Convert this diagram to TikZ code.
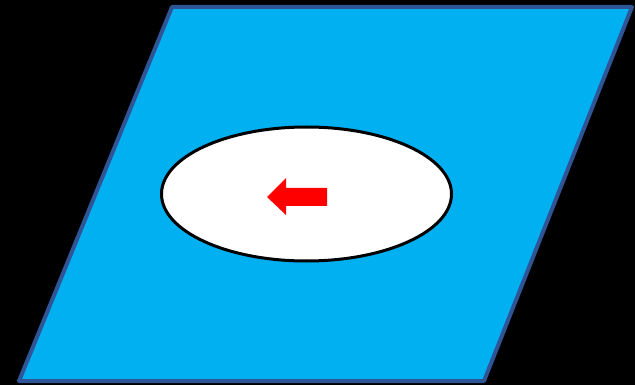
\documentclass[tikz,border=0pt]{standalone}
\definecolor{paracyan}{HTML}{00B0F0}
\definecolor{paraedge}{HTML}{2F5597}
\tikzset{
  para/.style={fill=paracyan, draw=paraedge, line width=4pt, line join=round},
  oval/.style={ellipse, fill=white, draw=black, line width=3pt},
  redarrow/.style={fill=red, draw=none}
}
\begin{document}
\begin{tikzpicture}[x=1pt,y=-1pt]
\fill[black] (0,0) rectangle (635,385);
\useasboundingbox (0,0) rectangle (635,385);
\draw[para] (172,7) -- (632,7) -- (484,381) -- (19,381) -- cycle;
\draw[line width=3pt, fill=white] (306.5,194) ellipse [x radius=145, y radius=67];
\fill[redarrow] (267,197) -- (286,178) -- (286,188) -- (327,188) -- (327,206) -- (286,206) -- (286,215) -- cycle;
\end{tikzpicture}
\end{document}
